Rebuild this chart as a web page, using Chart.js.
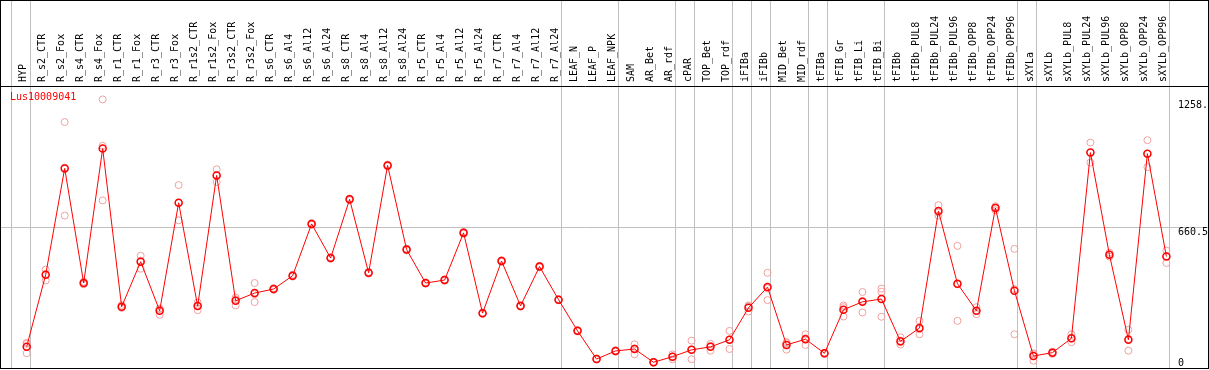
<!DOCTYPE html>
<html>
<head>
<meta charset="utf-8">
<script src="https://cdn.jsdelivr.net/npm/chart.js@4/dist/chart.umd.min.js"></script>
<style>
  body { margin: 0; background: #fff; }
  #wrap { position: relative; width: 1209px; height: 370px; }
  #frame { position: absolute; left: 0; top: 0; width: 1209px; height: 369px; box-sizing: border-box; border: 1px solid #000; pointer-events: none; }
</style>
</head>
<body>
<div id="wrap">
  <canvas id="exprChart" width="1209" height="370"></canvas>
  <div id="frame"></div>
</div>
<script>
// DATA
const seriesName = "Lus10009041";

const categories = [
    "HYP", "R_s2_CTR", "R_s2_Fox", "R_s4_CTR", "R_s4_Fox", "R_r1_CTR", "R_r1_Fox", "R_r3_CTR", "R_r3_Fox",
    "R_r1s2_CTR", "R_r1s2_Fox", "R_r3s2_CTR", "R_r3s2_Fox", "R_s6_CTR", "R_s6_Al4", "R_s6_Al12", "R_s6_Al24",
    "R_s8_CTR", "R_s8_Al4", "R_s8_Al12", "R_s8_Al24", "R_r5_CTR", "R_r5_Al4", "R_r5_Al12", "R_r5_Al24",
    "R_r7_CTR", "R_r7_Al4", "R_r7_Al12", "R_r7_Al24", "LEAF_N", "LEAF_P", "LEAF_NPK", "SAM", "AR_Bet", "AR_rdf",
    "cPAR", "TOP_Bet", "TOP_rdf", "iFIBa", "iFIBb", "MID_Bet", "MID_rdf", "tFIBa", "tFIB_Gr", "tFIB_Li", "tFIB_Bi",
    "tFIBb", "tFIBb_PUL8", "tFIBb_PUL24", "tFIBb_PUL96", "tFIBb_OPP8", "tFIBb_OPP24", "tFIBb_OPP96",
    "sXYLa", "sXYLb", "sXYLb_PUL8", "sXYLb_PUL24", "sXYLb_PUL96", "sXYLb_OPP8", "sXYLb_OPP24", "sXYLb_OPP96"
];

const meanValues = [
    100, 437, 935, 398, 1028, 287, 498, 268, 774, 290, 902, 315, 351, 370, 432, 675, 515,
    790, 446, 949, 555, 398, 412, 633, 257, 501, 291, 475, 320, 174, 42, 80, 89, 27, 53,
    85, 99, 132, 282, 379, 108, 135, 69, 273, 310, 323, 125, 187, 735, 395, 268, 750, 362,
    56, 72, 139, 1009, 531, 132, 1004, 522
];

const rep1 = [
    118, 461, 1152, 392, 1258.1, 283, 526, 249, 857, 307, 931, 330, 398, 366, 428, 679, 512,
    794, 442, 953, 551, 395, 409, 637, 254, 505, 288, 479, 317, 171, 40, 77, 111, 25, 64,
    128, 113, 174, 288, 446, 121, 158, 72, 293, 356, 372, 144, 221, 763, 572, 285, 758, 558,
    69, 66, 158, 1056, 540, 179, 1067, 550
];

const rep2 = [
    113, 410, 714, 404, 785, 295, 465, 278, 692, 271, 871, 293, 309, 374, 437, 671, 519,
    786, 450, 945, 559, 401, 415, 629, 260, 497, 294, 471, 323, 177, 44, 83, 64, 29, 41,
    41, 81, 89, 265, 318, 86, 108, 66, 241, 260, 357, 110, 158, 714, 221, 252, 739, 158,
    34, 74, 121, 962, 522, 81, 941, 492
];

const rep3 = [
    69, 440, 939, 398, 1041, 282, 503, 277, 773, 292, 904, 322, 346, 370, 431, 675, 514,
    790, 446, 949, 555, 398, 412, 633, 257, 501, 291, 475, 320, 174, 42, 80, 92, 27, 54,
    86, 103, 133, 293, 373, 117, 139, 69, 285, 314, 240, 121, 182, 728, 392, 267, 753, 370,
    65, 76, 138, 1009, 531, 136, 1004, 524
];

// last category index of each tissue group (gray separators)
const groupEnds = [-1, 0, 28, 31, 34, 35, 37, 38, 39, 41, 42, 45, 52, 53, 60];

const yTicks = [0, 660.5, 1258.1, 1321];
const yTickLabels = [["0", ""], ["", "660.5"], ["", "1258.1"], ""];

// CHART
Chart.defaults.font.family = "'DejaVu Sans Mono', monospace";
Chart.defaults.font.size = 10;

// gene name in the top-left corner of the plot
const seriesTag = {
    id: "seriesTag",
    afterDraw(chart) {
        const { ctx, chartArea } = chart;
        ctx.save();
        ctx.font = "10px 'DejaVu Sans Mono', monospace";
        ctx.fillStyle = "#ff0000";
        ctx.textBaseline = "middle";
        ctx.fillText(seriesName, chartArea.left + 9, chartArea.top + 11);
        ctx.restore();
    }
};

const toPoints = arr => arr.map((v, i) => ({ x: i, y: v }));
const repStyle = {
    showLine: false,
    pointRadius: 3.5,
    pointBorderWidth: 1,
    pointBorderColor: "#f0a0a0",
    pointBackgroundColor: "transparent"
};

new Chart(document.getElementById("exprChart"), {
    type: "line",
    data: {
        datasets: [
            {
                label: seriesName,
                data: toPoints(meanValues),
                borderColor: "#ff0000",
                borderWidth: 1,
                pointRadius: 3.5,
                pointBorderWidth: 1.5,
                pointBorderColor: "#ff0000",
                pointBackgroundColor: "transparent",
                tension: 0
            },
            Object.assign({ label: "rep1", data: toPoints(rep1) }, repStyle),
            Object.assign({ label: "rep2", data: toPoints(rep2) }, repStyle),
            Object.assign({ label: "rep3", data: toPoints(rep3) }, repStyle)
        ]
    },
    plugins: [seriesTag],
    options: {
        responsive: false,
        animation: false,
        events: [],
        clip: false,
        layout: { autoPadding: false, padding: { left: 1, right: 1, top: 0, bottom: 2 } },
        plugins: {
            tooltip: { enabled: false },
            legend: { display: false }
        },
        scales: {
            x: {
                type: "linear",
                position: "top",
                min: -1.3526,
                max: 60.19,
                afterBuildTicks: s => {
                    const t = categories.map((c, i) => ({ value: i }));
                    groupEnds.forEach(g => t.push({ value: g + 0.18 }));
                    s.ticks = t.sort((a, b) => a.value - b.value);
                },
                afterFit: s => {
                    s.height = 86;
                    s.paddingLeft = 0;
                    s.paddingRight = 0;
                },
                ticks: {
                    autoSkip: false,
                    minRotation: 90,
                    maxRotation: 90,
                    padding: -82,
                    labelOffset: 9,
                    color: "#000",
                    callback: v => Number.isInteger(v) ? categories[v] : ""
                },
                grid: {
                    drawTicks: true,
                    tickLength: 86,
                    color: ctx => (ctx.tick && !Number.isInteger(ctx.tick.value)) ? "#c0c0c0" : "transparent"
                },
                border: { display: false }
            },
            y: {
                position: "right",
                min: 0,
                max: 1321,
                afterBuildTicks: s => { s.ticks = yTicks.map(v => ({ value: v })); },
                afterFit: s => {
                    s.width = 38;
                    s.paddingTop = 0;
                    s.paddingBottom = 0;
                },
                ticks: {
                    padding: -30,
                    labelOffset: 0.5,
                    color: "#000",
                    font: { lineHeight: 1.0 },
                    callback: (v, i) => yTickLabels[i]
                },
                grid: {
                    drawTicks: true,
                    tickLength: 38,
                    color: ctx => {
                        if (!ctx.tick) return "transparent";
                        if (ctx.tick.value === 660.5) return "#c0c0c0";
                        if (ctx.tick.value === 0 || ctx.tick.value === 1321) return "#000";
                        return "transparent";
                    }
                },
                border: { display: false }
            }
        }
    }
});
</script>
</body>
</html>
